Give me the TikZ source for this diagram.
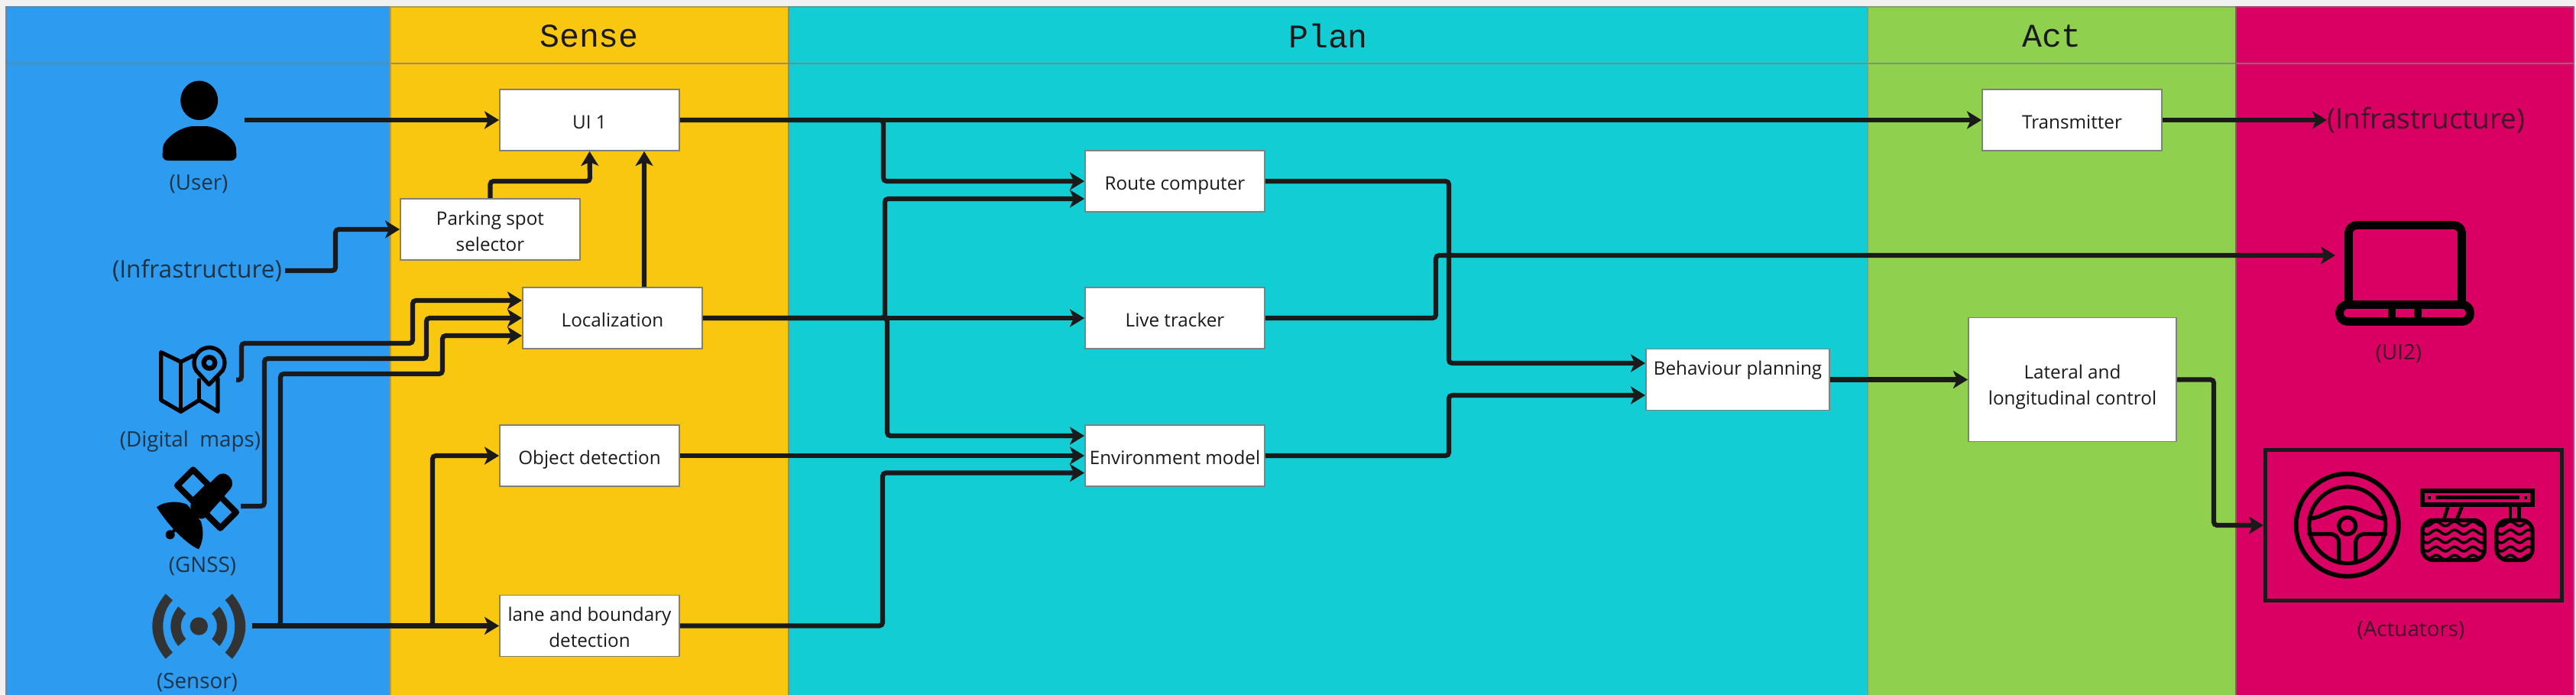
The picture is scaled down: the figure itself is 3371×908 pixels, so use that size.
\documentclass[tikz,border=0pt]{standalone}
\usepackage{fontspec}
\setmainfont{Open Sans}
\newfontfamily\headfont{Liberation Mono}
\usepackage{xcolor}
\usetikzlibrary{arrows.meta, positioning}

\definecolor{lanegrey}{HTML}{F1F1F1}
\definecolor{laneblue}{HTML}{2D9BF0}
\definecolor{laneyellow}{HTML}{FAC710}
\definecolor{laneteal}{HTML}{12CDD4}
\definecolor{lanegreen}{HTML}{8FD14F}
\definecolor{lanepink}{HTML}{DA0063}
\definecolor{inkdark}{HTML}{1A1A1A}

\newcommand{\boxstrut}{\rule[-2.9pt]{0pt}{12.4pt}}
\newcommand{\firstline}[1]{\rule{0pt}{#1}}

\tikzset{
    procbox/.style={draw=black!50, line width=0.5pt, fill=white, text=inkdark, inner sep=0pt,
        minimum width=2.35cm, minimum height=0.8cm, align=center,
        font=\fontsize{6.9}{9.6}\selectfont,
        execute at begin node=\boxstrut, execute at end node=\boxstrut},
    lanehead/.style={text=inkdark, inner sep=0pt, font=\headfont\fontsize{12.3}{14}\selectfont},
    srclabel/.style={text=inkdark, text opacity=0.8, inner sep=0pt, font=\fontsize{7.9}{10}\selectfont},
    conn/.style={-{Stealth[length=0.19cm, width=0.23cm, inset=0.05cm]}, draw=inkdark,
        line width=1.75pt, rounded corners=1.2pt},
    iconline/.style={draw=black, line width=1.5pt, line join=round, line cap=round}
}

\begin{document}
\begin{tikzpicture}[x=0.01cm, y=-0.01cm]
    \useasboundingbox (0,0) rectangle (3371,908);
    \fill[lanegrey] (0,0) rectangle (3371,908);

    % Lanes
    \foreach \xa/\xb/\col in {8/511/laneblue, 511/1032/laneyellow, 1032/2444/laneteal, 2444/2926/lanegreen, 2926/3368/lanepink} {
        \draw[fill=\col, draw=gray!60!\col, line width=0.4pt] (\xa,9) rectangle (\xb,912);
        \draw[draw=gray!80!\col, line width=0.8pt] (\xa,83) -- (\xb,83);
    }
    \node[lanehead] (sensehead) at (771,47) {Sense};
    \node[lanehead] (planhead) at (1738,47) {Plan};
    \node[lanehead] (acthead) at (2685,47) {Act};

    % Sense boxes
    \node[procbox] (ui) at (771.5,157) {UI 1};
    \node[procbox] (parking) at (641.5,300) {\firstline{9.3pt}Parking spot\\selector};
    \node[procbox] (loc) at (801.5,416) {Localization};
    \node[procbox] (objdet) at (771.5,596) {Object detection};
    \node[procbox] (lane) at (771.5,818.5) {\firstline{9.3pt}lane and boundary\\detection};

    % Plan boxes
    \node[procbox] (route) at (1537.5,237) {Route computer};
    \node[procbox] (live) at (1537.5,416) {Live tracker};
    \node[procbox] (envmodel) at (1537.5,596) {Environment model};
    \node[procbox, minimum width=2.4cm] (behave) at (2274,496.5) {\firstline{9.3pt}Behaviour planning\\~};

    % Act boxes
    \node[procbox] (transmit) at (2711.5,157) {Transmitter};
    \node[procbox, minimum width=2.72cm, minimum height=1.62cm] (lateral) at (2712,496.5) {\firstline{12pt}Lateral and\\longitudinal control};

    % Labels
    \node[srclabel] (userlabel) at (260,241) {(User)};
    \node[srclabel, font=\fontsize{9}{11}\selectfont, inner sep=1pt] (infraleft) at (258,354) {(Infrastructure)};
    \node[srclabel] (maplabel) at (249,577) {(Digital\ \ maps)};
    \node[srclabel] (gnsslabel) at (265,741) {(GNSS)};
    \node[srclabel] (sensorlabel) at (258,893) {(Sensor)};
    \node[srclabel, font=\fontsize{10.5}{12}\selectfont] (infraright) at (3175,157) {(Infrastructure)};
    \node[srclabel] (ui2label) at (3139,463) {(UI2)};
    \node[srclabel] (actlabel) at (3155,825) {(Actuators)};

    % Actuators frame
    \node[draw=inkdark, line width=1.45pt, minimum width=3.88cm, minimum height=1.97cm, inner sep=0pt] (actbox) at (3158.5,687) {};

    % Free ends
    \coordinate (userout) at (320,157);
    \coordinate (mapout) at (309,497);
    \coordinate (gnssout) at (315,662);
    \coordinate (sensorout) at (330,818.5);
    \coordinate (laptopin) at (3056,334);

    % Inputs
    \draw[conn] (userout) -- (ui.west);
    \draw[conn] (infraleft.east) -| (439,300) -- (parking.west);
    \draw[conn] (mapout) -| (316,449) -| (540,393) -- ([yshift=0.23cm]loc.west);
    \draw[conn] (gnssout) -| (346,469) -| (558,416) -- (loc.west);
    \draw[conn] (sensorout) -| (367,489) -| (579,439) -- ([yshift=-0.23cm]loc.west);
    \draw[conn] (sensorout) -- (lane.west);
    \draw[conn] (sensorout) -| (566,596) -- (objdet.west);

    % Sense to UI
    \draw[conn] (parking.north) |- (772,237) -- (ui.south);
    \draw[conn] ([xshift=0.415cm]loc.north) -- ([xshift=0.715cm]ui.south);

    % Sense to Plan
    \draw[conn] (ui.east) -- (transmit.west);
    \draw[conn] (ui.east) -| (1156,237) -- (route.west);
    \draw[conn] (loc.east) -- (live.west);
    \draw[conn] (loc.east) -| (1158,260) -- ([yshift=-0.23cm]route.west);
    \draw[conn] (loc.east) -| (1161,570) -- ([yshift=0.26cm]envmodel.west);
    \draw[conn] (objdet.east) -- (envmodel.west);
    \draw[conn] (lane.east) -| (1155,618.5) -- ([yshift=-0.225cm]envmodel.west);

    % Plan to Act
    \draw[conn] (route.east) -| (1896,475) -- ([yshift=0.215cm]behave.west);
    \draw[conn] (envmodel.east) -| (1896,517) -- ([yshift=-0.205cm]behave.west);
    \draw[conn] (live.east) -| (1879,334) -- (laptopin);
    \draw[conn] (behave.east) -- (lateral.west);

    % Outputs
    \draw[conn] (transmit.east) -- (infraright.west);
    \draw[conn] (lateral.east) -| (2897,687) -- (actbox.west);

    % User icon
    \fill[black] (260.7,131.3) circle[x radius=24.5, y radius=25.7];
    \fill[black, rounded corners=2pt] (212.6,210) -- (212.6,200) .. controls (214,182) and (236,165) .. (261,165)
        .. controls (286,165) and (308,182) .. (309.4,200) -- (309.4,210) -- cycle;

    % Map icon
    \draw[iconline] (253.3,465) -- (236.7,473.3) -- (210.7,460.7) -- (210.7,523.3) -- (236.7,538.3) -- (260.7,523.3) -- (285,538.3) -- (285,495);
    \draw[iconline] (236.7,473.3) -- (236.7,538.3);
    \draw[iconline] (260.7,497) -- (260.7,523.3);
    \draw[iconline] (273.5,503) -- (256.7,484.5) arc[start angle=150, end angle=390, radius=20] -- cycle;
    \draw[iconline, line width=1.8pt] (274,474.5) circle[radius=7.3];

    % GNSS icon
    \draw[iconline, line width=2.3pt] (252.7,614.3) -- (273.3,635) -- (252.7,655.7) -- (232,635) -- cycle;
    \draw[iconline, line width=2.3pt] (288.3,649.3) -- (309,670) -- (288.3,690.7) -- (267.7,670) -- cycle;
    \fill[black, rounded corners=3pt] (291.7,615) -- (308.3,631.7) -- (263.3,683.3) -- (245,661.7) -- cycle;
    \fill[black] (205,663.3) .. controls (215,655) and (235,655) .. (245,660) -- (263,682)
        .. controls (267,695) and (266,708) .. (260,718.3) .. controls (245,712) and (222,690) .. (205,663.3) -- cycle;
    \fill[black] (222.7,699.3) circle[radius=6];
    \draw[iconline, line width=1.2pt] (222.7,699.3) -- (231.7,690);

    % Sensor icon
    \fill[black!80] (260.3,819) circle[radius=11.7];
    \foreach \side in {1,-1} {
        \begin{scope}[shift={(260.3,0)}, xscale=\side]
            \fill[black!80] (-43.6,776.7) -- (-34.3,785) .. controls (-51.2,802) and (-51.2,836) .. (-34.3,853.3)
                -- (-43.6,861.7) .. controls (-66.8,833) and (-66.8,805) .. (-43.6,776.7) -- cycle;
            \fill[black!80] (-27,793.3) -- (-17,802.3) .. controls (-25.8,813) and (-25.8,825) .. (-17,835.7)
                -- (-27,845) .. controls (-40.3,828) and (-40.3,810) .. (-27,793.3) -- cycle;
        \end{scope}
    }

    % Laptop icon
    \draw[draw=black, line width=3.1pt, rounded corners=3pt] (3073.5,396) -- (3073.5,294.5) -- (3221.5,294.5) -- (3221.5,396);
    \draw[draw=black, line width=3.1pt, rounded corners=3pt] (3061.5,398.5) -- (3232.5,398.5) -- (3232.5,420.5) -- (3061.5,420.5) -- cycle;
    \draw[draw=black, line width=3.1pt] (3130,398) -- (3130,421);
    \draw[draw=black, line width=3.1pt] (3164,398) -- (3164,421);

    % Steering wheel icon
    \begin{scope}[shift={(3071.7,686.7)}]
        \draw[iconline, line width=1.7pt] (0,0) circle[radius=67];
        \draw[iconline, line width=1.5pt] (0,0) circle[radius=50];
        \draw[iconline] (0,1) circle[radius=11];
        \draw[iconline] (-50,-8.3) .. controls (-30,-10) and (-20,-23) .. (0,-23) .. controls (20,-23) and (30,-10) .. (50,-8.3);
        \draw[iconline] (-50,11.7) -- (-24,11.7) .. controls (-15,11.7) and (-11,16) .. (-11,24) -- (-11,49);
        \draw[iconline] (50,11.7) -- (24,11.7) .. controls (15,11.7) and (11,16) .. (11,24) -- (11,49);
    \end{scope}

    % Pedals icon
    \draw[draw=black, line width=1.5pt] (3170,642) rectangle (3314,660);
    \draw[draw=black, line width=1.5pt] (3186.7,650.7) -- (3296.7,650.7);
    \fill[black] (3177.3,648.7) rectangle (3181.3,652.7);
    \fill[black] (3303,648.7) rectangle (3307,652.7);
    \draw[draw=black, line width=1.3pt] (3203.3,663) -- (3198.3,679);
    \draw[draw=black, line width=1.3pt] (3221.7,663) -- (3215,679);
    \draw[draw=black, line width=1.3pt] (3285,663) -- (3285,679);
    \draw[draw=black, line width=1.3pt] (3296.7,663) -- (3296.7,679);
    \foreach \xa/\xb in {3170/3251.5, 3267/3314} {
        \begin{scope}
            \clip[rounded corners=4pt] (\xa,680.5) -- (\xb,680.5) -- (\xb,732.5) -- (\xa,732.5) -- cycle;
            \foreach \wy in {685,696,707,718,729} {
                \draw[draw=black, line width=1pt, line join=round] plot[domain=\xa:\xb, samples=30] (\x,{\wy+3*sin(15*(\x-\xa))});
            }
        \end{scope}
        \draw[draw=black, line width=1.5pt, rounded corners=4pt] (\xa,680.5) -- (\xb,680.5) -- (\xb,732.5) -- (\xa,732.5) -- cycle;
    }
\end{tikzpicture}
\end{document}
